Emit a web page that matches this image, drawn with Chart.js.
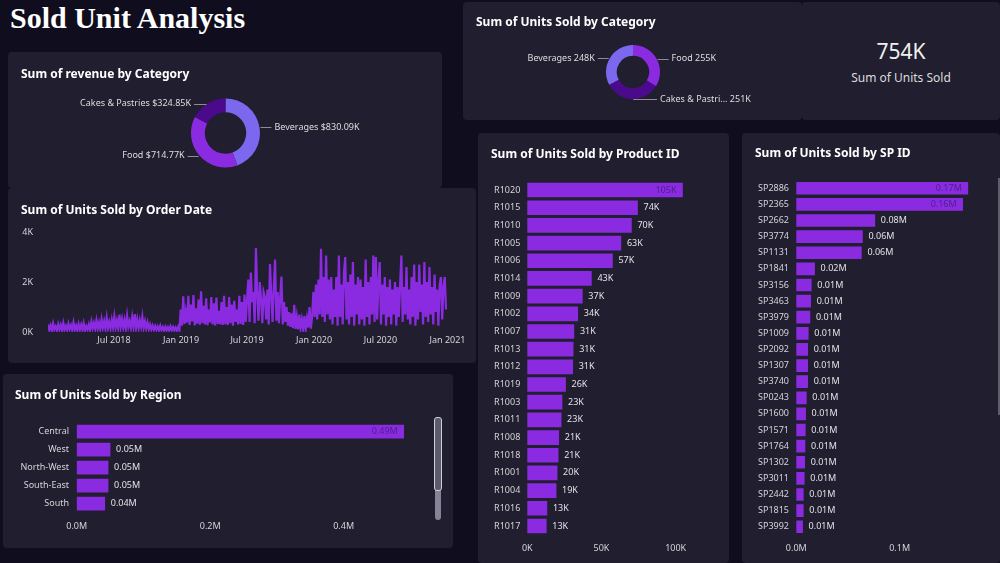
<!DOCTYPE html>
<html>
<head>
<meta charset="utf-8">
<script src="https://cdn.jsdelivr.net/npm/chart.js@4.4.1/dist/chart.umd.min.js"></script>
<style>
  html, body { margin:0; padding:0; background:#100e1e; }
  body { width:1000px; height:563px; position:relative; overflow:hidden; font-family:"Noto Sans", sans-serif; }
  .panel { position:absolute; background:#201e2f; border-radius:4px; }
  .panel canvas { position:absolute; left:0; top:0; }
  .ttl { position:absolute; color:#fff; font-weight:700; font-size:12px; line-height:16px; white-space:nowrap; }
  h1 { position:absolute; left:10px; top:0; margin:0; font:700 30px "Liberation Serif", "Times New Roman", serif; line-height:36px; color:#fff; }
  .kpi { position:absolute; left:0; width:100%; text-align:center; color:#f0f0f0; white-space:nowrap; }
</style>
</head>
<body>
<h1>Sold Unit Analysis</h1>

<div class="panel" style="left:8px;top:52px;width:434px;height:136px">
  <canvas id="cRevenue" width="434" height="136"></canvas>
  <div class="ttl" style="left:13px;top:14px">Sum of revenue by Category</div>
</div>

<div class="panel" style="left:8px;top:188px;width:468px;height:175px">
  <canvas id="cDate" width="468" height="175"></canvas>
  <div class="ttl" style="left:13px;top:14px">Sum of Units Sold by Order Date</div>
</div>

<div class="panel" style="left:3px;top:374px;width:450px;height:174px">
  <canvas id="cRegion" width="450" height="174"></canvas>
  <div class="ttl" style="left:12px;top:13px">Sum of Units Sold by Region</div>
  <div style="position:absolute;left:432px;top:43px;width:6px;height:103px;background:#858395;border-radius:3px"></div>
  <div style="position:absolute;left:431px;top:43px;width:6px;height:72px;background:#5d5b6e;border:1px solid #d0d0d8;border-radius:3px"></div>
</div>

<div class="panel" style="left:463px;top:2px;width:339px;height:118px">
  <canvas id="cUnitsCat" width="339" height="118"></canvas>
  <div class="ttl" style="left:13px;top:12px">Sum of Units Sold by Category</div>
</div>

<div class="panel" style="left:802px;top:2px;width:198px;height:118px">
  <div class="kpi" id="kpiValue" style="top:35px;font-size:21px;line-height:28px"></div>
  <div class="kpi" style="top:67px;font-size:12px;line-height:18px;color:#dcdcdc">Sum of Units Sold</div>
</div>

<div class="panel" style="left:478px;top:133px;width:251px;height:430px">
  <canvas id="cProduct" width="251" height="430"></canvas>
  <div class="ttl" style="left:13px;top:13px">Sum of Units Sold by Product ID</div>
</div>

<div class="panel" style="left:742px;top:133px;width:258px;height:430px">
  <canvas id="cSp" width="258" height="430"></canvas>
  <div class="ttl" style="left:13px;top:12px">Sum of Units Sold by SP ID</div>
  <div style="position:absolute;left:256px;top:45px;width:2px;height:237px;background:#5f5d6c"></div>
</div>

<script>
// ---- data ----
const revCategories = ['Beverages', 'Food', 'Cakes & Pastries'];
const revValuesK = [830.09, 714.77, 324.85];

const unitCategories = ['Food', 'Cakes & Pastries', 'Beverages'];
const unitValues = [255000, 251000, 248000];

const catColors = { 'Beverages':'#7b68ee', 'Food':'#8a2be2', 'Cakes & Pastries':'#4b0a8c' };

const regionNames = ['Central', 'West', 'North-West', 'South-East', 'South'];
const regionUnits = [490000, 50000, 47000, 47000, 42000];

const productIds = ['R1020','R1015','R1010','R1005','R1006','R1014','R1009','R1002','R1007','R1013',
                    'R1012','R1019','R1003','R1011','R1008','R1018','R1001','R1004','R1016','R1017'];
const productUnits = [104600, 74300, 70200, 63100, 57400, 43200, 37100, 34000, 31400, 30900,
                      30600, 25800, 23400, 22800, 21200, 20800, 20100, 19400, 13200, 12800];

const spIds = ['SP2886','SP2365','SP2662','SP3774','SP1131','SP1841','SP3156','SP3463','SP3979','SP1009','SP2092',
               'SP1307','SP3740','SP0243','SP1600','SP1571','SP1764','SP1302','SP3011','SP2442','SP1815','SP3992'];
const spUnits = [166000, 161000, 76000, 64000, 63000, 17700, 14500, 13900, 13200, 11600, 11000,
                 11000, 11000, 9700, 9000, 8700, 8400, 8100, 7700, 6800, 6800, 6100];

// order date readings, one every 3.5 days from 1 Jan 2018
const orderStepDays = 3.5;
const units2018H1 = [300,80,260,60,340,90,220,70,310,100,280,60,360,90,240,80,330,110,270,70,380,90,250,60,320,100,
                     290,80,350,70,230,90,300,80,420,150,360,120,460,140,380,110,500,170,430,130,560,160,400,140,480,180];
const units2018H2 = [620,180,450,150,700,200,520,170,480,140,650,210,430,160,590,190,720,170,500,150,460,200,610,160,420,140,
                     380,120,300,100,260,90,240,80,220,70,250,80,200,60,210,70,190,60,230,80,200,70,180,60,210,70];
const units2019H1 = [900,250,1430,320,800,380,1450,280,1100,420,1480,260,950,330,1300,290,1630,350,1050,300,1350,270,900,380,1400,300,
                     1150,260,1380,320,850,300,1200,280,1450,300,1000,280,1400,350,1100,250,1250,400,900,300,1450,320,1200,280,1500,400];
const units2019H2 = [1300,2100,400,2380,1200,1600,350,3360,1500,450,2000,1300,350,1600,1400,500,1700,300,2720,1500,400,1800,2900,450,1600,350,
                     1400,2220,300,1200,400,1000,250,800,200,750,150,1090,120,600,100,700,150,500,120,650,100,550,180,1000,130,600];
const units2020H1 = [1600,600,1900,500,2100,700,3330,600,2200,400,3060,700,2100,500,2200,300,1700,600,2200,250,3060,600,1900,300,2400,3000,
                     500,2000,300,2300,600,2800,250,1900,700,2200,300,2100,500,1800,250,2900,600,2000,300,2200,700,3060,400,3000,500,2000];
const units2020H2 = [2800,300,1900,700,2200,250,1800,600,2100,300,1700,700,2000,250,1800,600,1900,3060,400,1800,700,2600,500,1700,300,2200,
                     600,2700,250,2000,500,2700,800,1900,300,2800,600,2000,400,2600,700,1800,300,2300,800,1700,250,1900,2200,500,1800,2200,900];
const dateTickDays = [181, 365, 546, 730, 912, 1096];
const dateTickLabels = ['Jul 2018', 'Jan 2019', 'Jul 2019', 'Jan 2020', 'Jul 2020', 'Jan 2021'];

// ---- helpers ----
const BAR = '#8a2be2';
const TICK_COLOR = '#d4d4d8';
const tickFont = { family:'"Noto Sans", sans-serif', size:9 };
const shorten = (s, n) => s.length > n ? s.slice(0, n) + '...' : s;

const donutLabels = {
  id: 'donutLabels',
  afterDatasetsDraw(chart){
    const {ctx} = chart;
    const ds = chart.data.datasets[0];
    ctx.save();
    ctx.font = '9px "Noto Sans", sans-serif';
    ctx.textBaseline = 'middle';
    ctx.lineWidth = 1;
    chart.getDatasetMeta(0).data.forEach((arc, i)=>{
      const mid = (arc.startAngle + arc.endAngle) / 2;
      const r = arc.outerRadius;
      const px = arc.x + Math.cos(mid) * r, py = arc.y + Math.sin(mid) * r;
      const right = Math.cos(mid) > -0.2;
      const tx = right ? Math.max(px + 15, arc.x + r) : Math.min(px - 15, arc.x - r);
      const ly = Math.round(py) + 0.5;
      ctx.strokeStyle = '#8d8b99';
      ctx.beginPath();
      ctx.moveTo(px + (right ? 1 : -1), ly);
      ctx.lineTo(tx + (right ? -3 : 3), ly);
      ctx.stroke();
      ctx.fillStyle = '#dedede';
      ctx.textAlign = right ? 'left' : 'right';
      ctx.fillText(ds.sliceLabel(chart.data.labels[i], ds.data[i]), tx, py);
    });
    ctx.restore();
  }
};

const barValueLabels = {
  id: 'barValueLabels',
  afterDatasetsDraw(chart){
    const {ctx, chartArea} = chart;
    const ds = chart.data.datasets[0];
    ctx.save();
    ctx.font = '9px "Noto Sans", sans-serif';
    ctx.textBaseline = 'middle';
    chart.getDatasetMeta(0).data.forEach((bar, i)=>{
      const txt = ds.valueFmt(ds.data[i]);
      const w = ctx.measureText(txt).width;
      if (bar.x + 6 + w > chartArea.right) {
        ctx.fillStyle = '#4e1f8c'; ctx.textAlign = 'right';
        ctx.fillText(txt, bar.x - 6, bar.y);
      } else {
        ctx.fillStyle = '#e2e2e6'; ctx.textAlign = 'left';
        ctx.fillText(txt, bar.x + 6, bar.y);
      }
    });
    ctx.restore();
  }
};

function donutOpts(pad){
  return {
    responsive:false, animation:false, devicePixelRatio:1, cutout:'60%',
    layout:{ padding:pad },
    plugins:{ legend:{ display:false }, tooltip:{ enabled:false } }
  };
}

function hbarOpts(o){
  return {
    indexAxis:'y', responsive:false, animation:false, devicePixelRatio:1,
    layout:{ padding:{ left:0, top:o.top, right:o.right, bottom:0 } },
    plugins:{ legend:{ display:false }, tooltip:{ enabled:false } },
    scales:{
      x:{ min:0, max:o.xMax, grid:{ display:false, drawTicks:false }, border:{ display:false },
          ticks:{ color:TICK_COLOR, font:tickFont, padding:8, maxRotation:0, callback:(v)=> o.xFmt(v) },
          afterBuildTicks:(s)=>{ s.ticks = o.xTicks.map(v=>({ value:v })); },
          afterFit:(s)=>{ s.height = o.xHeight; } },
      y:{ grid:{ display:false, drawTicks:false }, border:{ display:false },
          ticks:{ color:TICK_COLOR, font:tickFont, padding:o.gap, autoSkip:false },
          afterFit:(s)=>{ s.width = o.yWidth; } }
    }
  };
}

// ---- revenue donut ----
new Chart(document.getElementById('cRevenue'), {
  type:'doughnut',
  data:{ labels:revCategories, datasets:[{ data:revValuesK, backgroundColor:revCategories.map(c=>catColors[c]), borderWidth:0,
         sliceLabel:(l, v)=> `${l} $${v.toFixed(2)}K` }] },
  options: donutOpts({ left:183, right:182, top:46.5, bottom:20.5 }),
  plugins:[donutLabels]
});

// ---- units donut ----
new Chart(document.getElementById('cUnitsCat'), {
  type:'doughnut',
  data:{ labels:unitCategories, datasets:[{ data:unitValues, backgroundColor:unitCategories.map(c=>catColors[c]), borderWidth:0,
         sliceLabel:(l, v)=> `${shorten(l, 14)} ${Math.round(v/1000)}K` }] },
  options: donutOpts({ left:143, right:142, top:43, bottom:21 }),
  plugins:[donutLabels]
});

document.getElementById('kpiValue').textContent = Math.round(unitValues.reduce((a,b)=>a+b, 0) / 1000) + 'K';

// ---- order date line ----
const orderUnits = [].concat(units2018H1, units2018H2, units2019H1, units2019H2, units2020H1, units2020H2);
const orderPoints = orderUnits.map((v, i)=> ({ x:i * orderStepDays, y:v }));

new Chart(document.getElementById('cDate'), {
  type:'line',
  data:{ datasets:[{ data:orderPoints, borderColor:BAR, borderWidth:2.2, pointRadius:0, tension:0, fill:false }] },
  options:{
    responsive:false, animation:false, devicePixelRatio:1,
    layout:{ padding:{ left:0, top:44, right:28.5, bottom:0 } },
    plugins:{ legend:{ display:false }, tooltip:{ enabled:false } },
    scales:{
      x:{ type:'linear', min:0, max:1096, grid:{ display:false, drawTicks:false }, border:{ display:false },
          ticks:{ color:TICK_COLOR, font:tickFont, padding:3, maxRotation:0,
                  callback:(v)=> dateTickLabels[dateTickDays.indexOf(v)] },
          afterBuildTicks:(s)=>{ s.ticks = dateTickDays.map(v=>({ value:v })); },
          afterFit:(s)=>{ s.height = 31; } },
      y:{ min:0, max:4000, grid:{ display:false, drawTicks:false }, border:{ display:false },
          ticks:{ color:TICK_COLOR, font:tickFont, padding:15, callback:(v)=> (v/1000) + 'K' },
          afterBuildTicks:(s)=>{ s.ticks = [0, 2000, 4000].map(v=>({ value:v })); },
          afterFit:(s)=>{ s.width = 40; } }
    }
  }
});

// ---- region bars ----
new Chart(document.getElementById('cRegion'), {
  type:'bar',
  data:{ labels:regionNames, datasets:[{ data:regionUnits, backgroundColor:BAR, barThickness:13,
         valueFmt:(v)=> (v/1e6).toFixed(2) + 'M' }] },
  options: hbarOpts({ top:48.7, right:42.6, xHeight:35.3, yWidth:73.7, gap:7.7, xMax:500000,
                      xTicks:[0, 200000, 400000], xFmt:(v)=> (v/1e6).toFixed(1) + 'M' }),
  plugins:[barValueLabels]
});

// ---- product bars ----
new Chart(document.getElementById('cProduct'), {
  type:'bar',
  data:{ labels:productIds, datasets:[{ data:productUnits, backgroundColor:BAR, barThickness:14,
         valueFmt:(v)=> Math.round(v/1000) + 'K' }] },
  options: hbarOpts({ top:48.2, right:23.7, xHeight:28.2, yWidth:49.3, gap:7, xMax:120000,
                      xTicks:[0, 50000, 100000], xFmt:(v)=> (v/1000) + 'K' }),
  plugins:[barValueLabels]
});

// ---- SP bars ----
new Chart(document.getElementById('cSp'), {
  type:'bar',
  data:{ labels:spIds, datasets:[{ data:spUnits, backgroundColor:BAR, barThickness:12,
         valueFmt:(v)=> (v/1e6).toFixed(2) + 'M' }] },
  options: hbarOpts({ top:47.2, right:17.7, xHeight:28.2, yWidth:54.3, gap:7.3, xMax:180000,
                      xTicks:[0, 100000], xFmt:(v)=> (v/1e6).toFixed(1) + 'M' }),
  plugins:[barValueLabels]
});
</script>
</body>
</html>
